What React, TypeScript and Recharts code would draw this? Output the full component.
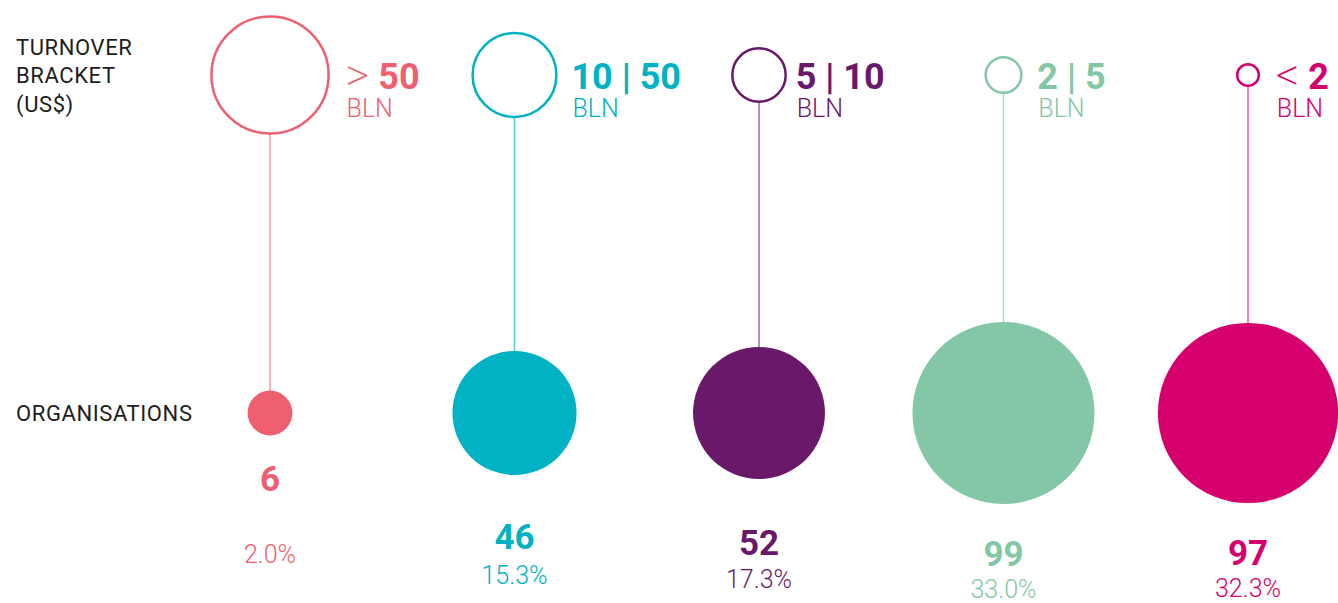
import { ScatterChart, Scatter, XAxis, YAxis, ZAxis } from "recharts";

// turnover brackets (US$ bln) and the relative size of their open circles
const brackets = ["> 50", "10 | 50", "5 | 10", "2 | 5", "< 2"];
const bracketSize = [41, 21, 8.5, 3.8, 1.4];
// organisations per bracket and share of total
const organisations = [6, 46, 52, 99, 97];
const shares = [2.0, 15.3, 17.3, 33.0, 32.3];
const rowLabels = [["ORGANISATIONS"], ["TURNOVER", "BRACKET", "(US$)"]];

const colors = ["#ee5f6f", "#00b2c4", "#69186a", "#84c7a7", "#d5006d"];
// label placement next to / below each circle
const bracketGap = [17, 15, 10, 16, 17];
const countGap = [56, 74, 76, 62, 62];
const shareGap = [72, 35, 33, 32, 32];

const FONT = "Roboto, 'DejaVu Sans', sans-serif";

function RowTick(props: any) {
  const { y, payload } = props;
  const lines = rowLabels[payload.value] ?? [];
  return (
    <g>
      {lines.map((t, k) => (
        <text
          key={k}
          x={16}
          y={y + 8 + (k - (lines.length - 1) / 2) * 28.5}
          fontFamily={FONT}
          fontSize={22}
          letterSpacing={0.6}
          fill="#1d1d1b"
        >
          {t}
        </text>
      ))}
    </g>
  );
}

function Mark(props: any) {
  const { cx, cy, size, width, payload } = props;
  const i = payload.col;
  const color = colors[i];
  const r = size ? Math.sqrt(size / Math.PI) : width / 2;
  if (payload.row === 1) {
    const tokens = brackets[i].split(" ");
    const tx = cx + r + bracketGap[i];
    return (
      <g>
        <circle cx={cx} cy={cy} r={r} fill="#fff" stroke={color} strokeWidth={2.5} />
        <text x={tx} y={cy + 14} fontFamily={FONT} fontSize={36} fill={color}>
          {tokens.map((t, k) =>
            t === ">" || t === "<" ? (
              <tspan key={k} fontSize={46} fontWeight={200} dy={2}>
                {t}
              </tspan>
            ) : (
              <tspan key={k} fontWeight={700} dy={k > 0 && (tokens[0] === ">" || tokens[0] === "<") && k === 1 ? -2 : 0}>
                {(k > 0 ? " " : "") + t}
              </tspan>
            )
          )}
        </text>
        <text x={tx + 1} y={cy + 42} fontFamily={FONT} fontSize={25} fontWeight={300} fill={color}>
          BLN
        </text>
      </g>
    );
  }
  const base = cy + r + countGap[i];
  return (
    <g>
      <circle cx={cx} cy={cy} r={r} fill={color} />
      <text x={cx} y={base} textAnchor="middle" fontFamily={FONT} fontSize={35} fontWeight={700} fill={color}>
        {payload.z}
      </text>
      <text x={cx} y={base + shareGap[i]} textAnchor="middle" fontFamily={FONT} fontSize={25} fontWeight={300} fill={color}>
        {shares[i].toFixed(1) + "%"}
      </text>
    </g>
  );
}

export default function App() {
  return (
    <div style={{ position: "absolute", left: 0, top: 0, background: "#fff" }}>
      <ScatterChart width={1338} height={603} margin={{ top: 75, right: 90, bottom: 190, left: 16 }}>
        <XAxis type="number" dataKey="col" domain={[0, 4]} hide />
        <YAxis
          type="number"
          dataKey="row"
          domain={[0, 1]}
          ticks={[0, 1]}
          width={254}
          axisLine={false}
          tickLine={false}
          tick={(p: any) => <RowTick {...p} />}
        />
        <ZAxis type="number" dataKey="z" domain={[0, 100]} range={[0, 26300]} />
        {brackets.map((b, i) => (
          <Scatter
            key={b}
            data={[
              { col: i, row: 1, z: bracketSize[i] },
              { col: i, row: 0, z: organisations[i] },
            ]}
            line={{ stroke: colors[i], strokeWidth: 1.5, strokeOpacity: 0.65 }}
            shape={(p: any) => <Mark {...p} />}
            isAnimationActive={false}
          />
        ))}
      </ScatterChart>
    </div>
  );
}
